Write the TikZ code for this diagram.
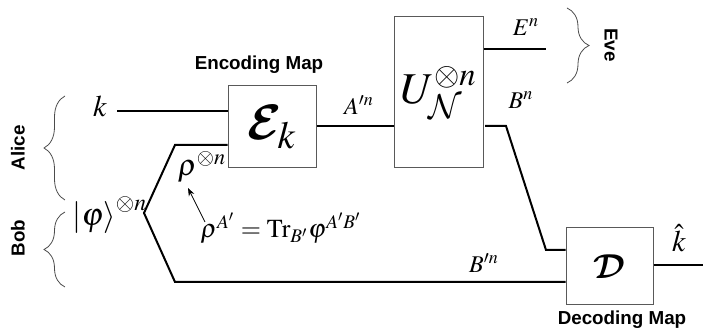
\documentclass[tikz,border=0pt]{standalone}
\usepackage{amsmath}
\usepackage{mathptmx}
\usepackage{fontspec}
\setmainfont{Liberation Serif}
\setsansfont{Liberation Sans}
\usetikzlibrary{decorations.pathreplacing,arrows.meta}
\DeclareMathAlphabet{\mcalb}{OMS}{cmsy}{b}{n}
\DeclareMathAlphabet{\mcal}{OMS}{cmsy}{m}{n}
\newcommand{\fsz}[1]{\fontsize{#1}{#1}\selectfont}
\begin{document}
\begin{tikzpicture}[x=0.5pt,y=-0.5pt,
  box/.style={draw=gray!70!black, line width=0.5pt, fill=white, inner sep=0pt},
  wire/.style={line width=1pt, black},
  lbl/.style={font=\sffamily\bfseries\fsz{9.4}, inner sep=0pt},
  mth/.style={inner sep=0pt},
  brc/.style={decorate, decoration={brace, amplitude=#1}, draw=gray!60!black, line width=0.4pt}]
\useasboundingbox (0,0) rectangle (703,331);
% boxes
\node[box, minimum width=44pt, minimum height=41pt, font=\fsz{26}] (enc) at (272,127) {$\mcalb{E}_{k}$};
\node[box, minimum width=44.5pt, minimum height=75.5pt, font=\fsz{22}] (U) at (438.5,92.5) {$U_{\mcal{N}}^{\otimes n}$};
\node[box, minimum width=43.5pt, minimum height=38.5pt, font=\fsz{17}] (D) at (609.5,266.5) {$\mcalb{D}$};
% labels
\node[lbl] (encl) at (259,65) {Encoding Map};
\node[lbl] (decl) at (622,320) {Decoding Map};
\node[lbl, rotate=90] (alice) at (18,148) {Alice};
\node[lbl, rotate=90] (bob) at (18,238) {Bob};
\node[lbl, rotate=-90] (eve) at (611,45) {Eve};
\node[mth, font=\fsz{15}] (k) at (100,106) {$k$};
\node[mth, font=\fsz{12}] (Ap) at (359,105) {$A^{\prime n}$};
\node[mth, font=\fsz{12}] (En) at (526,27) {$E^{n}$};
\node[mth, font=\fsz{12}] (Bn) at (521,100) {$B^{n}$};
\node[mth, font=\fsz{12}] (Bp) at (484,263) {$B^{\prime n}$};
\node[mth, font=\fsz{15}] (kh) at (679,238) {$\hat{k}$};
\node[mth, font=\fsz{16}] (phi) at (110,215) {$\left|\varphi\right\rangle^{\otimes n}$};
\node[mth, font=\fsz{15}] (rho) at (202,167) {$\rho^{\otimes n}$};
\node[mth, font=\fsz{13}] (form) at (281,228) {$\rho^{A'}=\mathrm{Tr}_{B'}\varphi^{A'B'}$};
% coordinates
\coordinate (kin) at (117,111);
\coordinate (Eend) at (546,49);
\coordinate (b1) at (485,126);
\coordinate (b2) at (506,126);
\coordinate (b3) at (546,250);
\coordinate (t1) at (175,145);
\coordinate (vx) at (144,213);
\coordinate (t2) at (175,282);
\coordinate (khend) at (703,265);
\coordinate (arS) at (205,222);
\coordinate (arE) at (188,188);
% wires
\draw[wire] (kin) -- (kin -| enc.west);
\draw[wire] (enc.east |- 0,126) -- (U.west |- 0,126);
\draw[wire] (U.east |- Eend) -- (Eend);
\draw[wire] (b1) -- (b2) -- (b3) -- (b3 -| D.west);
\draw[wire] (enc.west |- t1) -- (t1) -- (vx) -- (t2) -- (t2 -| D.west);
\draw[wire] (D.east |- khend) -- (khend);
\draw[line width=0.4pt, -{Stealth[length=4pt,width=3pt]}] (arS) -- (arE);
% braces
\draw[brc=10.5pt] (65,200) -- (65,96);
\draw[brc=10.5pt] (65,287) -- (65,212);
\draw[brc=11pt] (567,8) -- (567,83);
\end{tikzpicture}
\end{document}
